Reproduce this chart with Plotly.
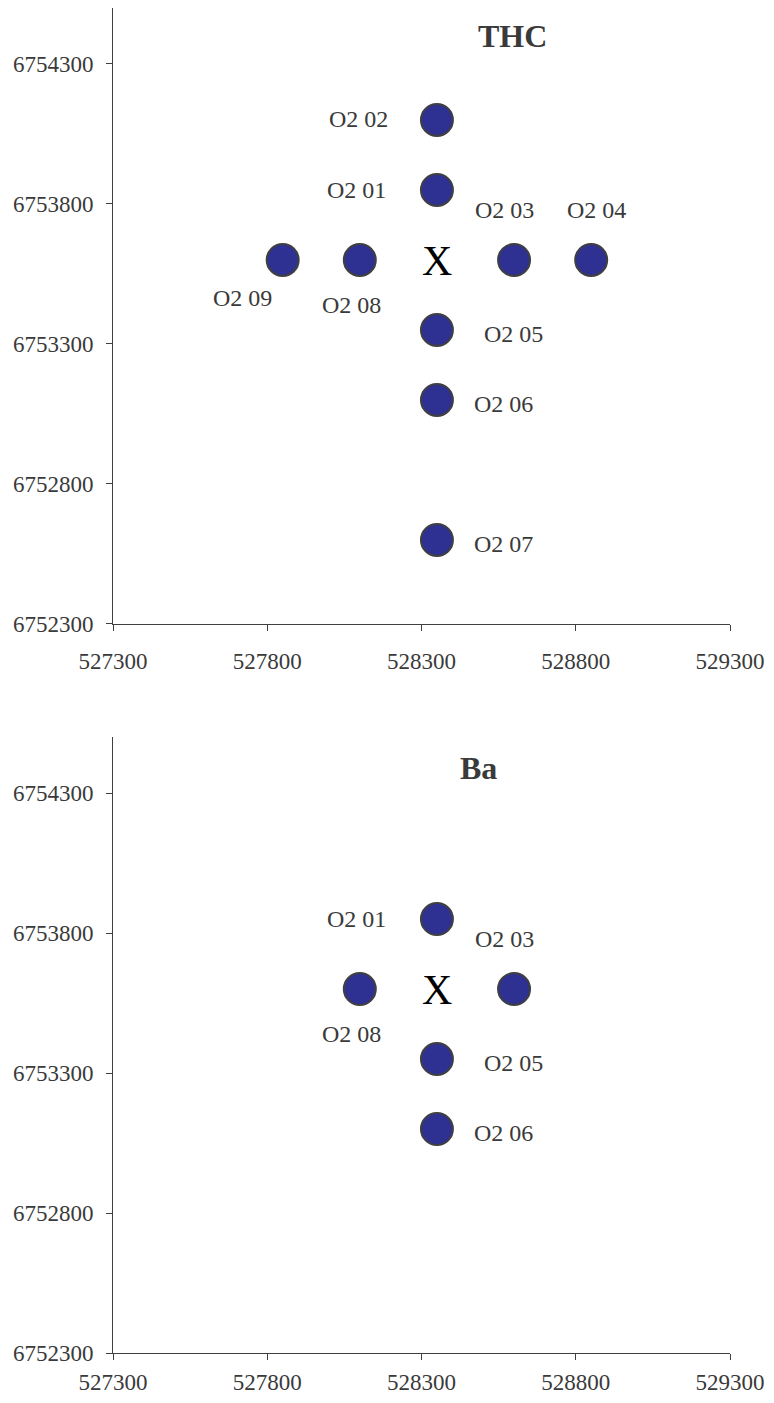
import plotly.graph_objects as go

# ---------------- data ----------------
thc_labels = ["O2 01", "O2 02", "O2 03", "O2 04", "O2 05", "O2 06", "O2 07", "O2 08", "O2 09"]
thc_east = [528350, 528350, 528600, 528850, 528350, 528350, 528350, 528100, 527850]
thc_north = [6753850, 6754100, 6753600, 6753600, 6753350, 6753100, 6752600, 6753600, 6753600]

ba_labels = ["O2 01", "O2 03", "O2 05", "O2 06", "O2 08"]
ba_east = [528350, 528600, 528350, 528350, 528100]
ba_north = [6753850, 6753600, 6753350, 6753100, 6753600]

center_label = "X"
center_east = [528350]
center_north = [6753600]

x_ticks = [527300, 527800, 528300, 528800, 529300]
y_ticks = [6752300, 6752800, 6753300, 6753800, 6754300]
x_range = [527300, 529300]
y_range = [6752300, 6754500]

panel_titles = ["THC", "Ba"]

# ---------------- style ----------------
FONT = "Liberation Serif, Times New Roman, serif"
TEXT_COL = "#3a3a3a"
MARKER_COL = "#2E3192"
LINE_COL = "#404040"

# figure is sized so that with the browser's default 8px body margin
# the page is exactly 774 x 1403
FIG_W, FIG_H = 758, 1387

# pixel offsets of each station label from its marker (xshift, yshift)
label_offsets = {
    "O2 01": (-80, 0),
    "O2 02": (-78, 1),
    "O2 03": (-10, 50),
    "O2 04": (5, 50),
    "O2 05": (77, -4),
    "O2 06": (67, -4),
    "O2 07": (67, -4),
    "O2 08": (-8, -45),
    "O2 09": (-40, -38),
}

fig = go.Figure()

panels = [
    (thc_labels, thc_east, thc_north, "x", "y"),
    (ba_labels, ba_east, ba_north, "x2", "y2"),
]

annotations = []
for labels, east, north, xa, ya in panels:
    fig.add_trace(go.Scatter(
        x=east, y=north, mode="markers", xaxis=xa, yaxis=ya,
        marker=dict(size=32, color=MARKER_COL, line=dict(color=LINE_COL, width=2)),
        showlegend=False, hoverinfo="text", text=labels,
    ))
    # centre mark "X"
    for cx, cy in zip(center_east, center_north):
        annotations.append(dict(
            x=cx, y=cy, xref=xa, yref=ya, text=center_label, showarrow=False,
            xanchor="center", yanchor="middle", yshift=-1,
            font=dict(family=FONT, size=42, color="#000000"),
        ))
    for lab, ex, ny in zip(labels, east, north):
        dx, dy = label_offsets[lab]
        annotations.append(dict(
            x=ex, y=ny, xref=xa, yref=ya, text=lab, showarrow=False,
            xshift=dx, yshift=dy, xanchor="center", yanchor="middle",
            font=dict(family=FONT, size=24, color=TEXT_COL),
        ))

# panel titles
annotations.append(dict(
    x=0.648, y=0.955, xref="x domain", yref="y domain", text="<b>" + panel_titles[0] + "</b>",
    showarrow=False, xanchor="center", yanchor="middle",
    font=dict(family=FONT, size=32, color=TEXT_COL),
))
annotations.append(dict(
    x=0.592, y=0.950, xref="x2 domain", yref="y2 domain", text="<b>" + panel_titles[1] + "</b>",
    showarrow=False, xanchor="center", yanchor="middle",
    font=dict(family=FONT, size=32, color=TEXT_COL),
))

axis_common = dict(
    showgrid=False, zeroline=False, showline=True, linecolor=LINE_COL, linewidth=1,
    ticks="outside", ticklen=6, tickcolor=LINE_COL, tickwidth=1,
    tickfont=dict(family=FONT, size=23, color=TEXT_COL),
    tickformat="d", mirror=False,
)

PLOT_W = 617   # leaves room for the right-most tick label inside the figure
PLOT_H = 620
GAP = 114
M_T, M_L = 0, 105
M_B = FIG_H - M_T - 2 * PLOT_H - GAP
M_R = FIG_W - M_L - PLOT_W
inner_h = 2 * PLOT_H + GAP
top_dom = [1 - PLOT_H / inner_h, 1]
bot_dom = [0, PLOT_H / inner_h]

fig.update_layout(
    width=FIG_W, height=FIG_H,
    margin=dict(l=M_L, r=M_R, t=M_T, b=M_B),
    paper_bgcolor="white", plot_bgcolor="white",
    annotations=annotations,
    xaxis=dict(axis_common, range=x_range, tickvals=x_ticks, anchor="y",
               ticklabelstandoff=11),
    yaxis=dict(axis_common, range=y_range, tickvals=y_ticks, domain=top_dom, anchor="x",
               ticklabelstandoff=8),
    xaxis2=dict(axis_common, range=x_range, tickvals=x_ticks, anchor="y2",
                ticklabelstandoff=2),
    yaxis2=dict(axis_common, range=y_range, tickvals=y_ticks, domain=bot_dom, anchor="x2",
                ticklabelstandoff=8),
)

fig.write_html("out.html", config={"displayModeBar": False})
